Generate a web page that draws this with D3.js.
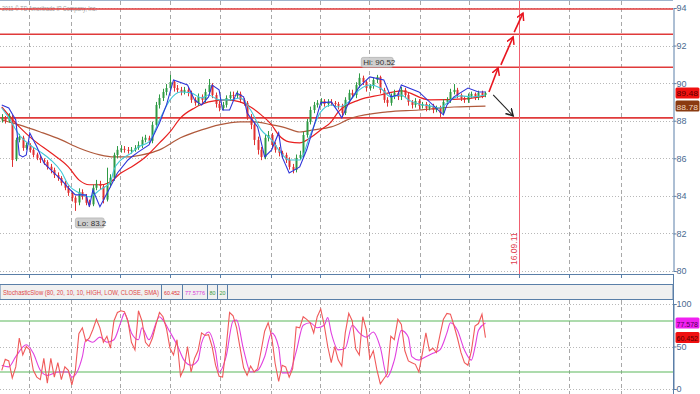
<!DOCTYPE html>
<html>
<head>
<meta charset="utf-8">
<script src="https://d3js.org/d3.v7.min.js"></script>
<style>
body{margin:0;padding:0;background:#fff;}
svg text{font-family:"Liberation Sans Narrow","Liberation Sans",Arial,sans-serif;}
</style>
</head>
<body>
<div id="chart"></div>
<script>
// candles, one per bar (price)
var opens = [88.05,88.15,87.99,88.20,85.95,86.98,87.10,86.55,86.70,86.45,86.20,86.02,85.90,85.80,85.55,85.38,85.10,84.95,84.70,84.43,
84.15,83.90,83.65,84.20,83.95,83.65,83.55,84.43,84.64,84.50,83.80,84.59,84.96,86.18,86.45,86.50,86.45,86.39,86.45,86.55,
86.71,86.98,87.09,86.93,87.78,88.84,89.21,89.53,89.74,90.06,89.74,89.64,89.53,89.64,89.48,89.11,88.95,89.27,89.11,89.53,
89.90,89.37,88.89,88.68,88.84,89.21,89.37,89.32,89.43,89.11,88.95,88.20,87.78,86.98,86.45,86.07,87.09,87.24,86.71,86.45,
86.29,86.18,85.91,85.54,85.38,86.02,86.18,87.24,87.94,88.57,88.84,88.95,89.05,88.89,89.00,88.95,88.89,88.79,88.41,89.11,
89.48,89.37,89.90,90.28,90.06,89.74,89.85,90.17,90.33,89.64,89.11,88.95,89.32,89.48,89.27,89.64,89.37,89.00,88.84,89.05,
88.79,88.89,88.68,88.79,88.57,88.68,88.41,89.00,89.11,89.53,89.64,89.37,89.21,89.11,89.32,89.43,89.27,89.48,89.37];
var highs = [88.35,88.25,88.40,88.30,87.10,87.30,87.20,86.85,86.80,86.55,86.30,86.15,86.00,85.90,85.70,85.50,85.25,85.05,84.80,84.55,
84.25,84.00,84.40,84.35,84.10,83.80,84.60,84.85,84.80,84.60,85.50,85.15,86.30,86.65,86.70,86.65,86.60,86.60,86.70,86.90,
87.15,87.25,87.20,87.95,89.00,89.40,89.70,89.95,90.44,90.15,89.90,89.80,89.80,89.80,89.60,89.25,89.45,89.40,89.70,90.22,
90.00,89.50,89.05,89.00,89.35,89.55,89.55,89.60,89.55,89.20,89.05,88.35,87.90,87.15,86.60,87.25,87.45,87.35,86.85,86.60,
86.40,86.30,86.05,85.70,86.20,86.40,87.40,88.10,88.75,89.00,89.10,89.20,89.15,89.15,89.15,89.05,89.00,88.90,89.25,89.65,
89.65,90.05,90.52,90.40,90.15,89.95,90.30,90.44,90.40,89.75,89.25,89.45,89.65,89.60,89.80,89.75,89.50,89.10,89.20,89.15,
89.00,89.00,88.90,88.90,88.80,88.80,89.15,89.25,89.70,89.95,89.75,89.45,89.30,89.45,89.55,89.50,89.60,89.60,89.55];
var lows = [87.90,87.85,87.90,85.54,85.85,86.85,86.40,86.45,86.30,86.05,85.90,85.75,85.65,85.40,85.20,84.95,84.80,84.55,84.30,84.00,
83.70,83.20,83.50,83.80,83.50,83.40,83.45,84.30,84.35,83.60,83.70,84.45,84.80,86.00,86.30,86.30,86.25,86.25,86.35,86.45,
86.55,86.85,86.75,86.80,87.65,88.65,89.05,89.35,89.60,89.55,89.50,89.35,89.40,89.30,88.95,88.80,88.80,88.95,88.95,89.40,
89.20,88.70,88.50,88.55,88.70,89.05,89.15,89.20,88.95,88.80,88.05,87.55,86.70,86.20,85.90,85.95,86.90,86.55,86.30,86.10,
86.00,85.75,85.40,85.20,85.25,85.90,86.05,87.10,87.80,88.40,88.70,88.80,88.75,88.75,88.80,88.75,88.60,88.20,88.30,88.95,
89.20,89.20,89.75,89.90,89.55,89.60,89.70,90.00,89.45,88.95,88.75,88.80,89.15,89.10,89.10,89.20,88.80,88.65,88.70,88.60,
88.65,88.50,88.55,88.40,88.45,88.20,88.30,88.85,88.95,89.40,89.20,89.05,88.95,88.95,89.20,89.10,89.10,89.20,89.25];
var closes = [88.15,87.99,88.26,85.91,86.98,87.14,86.55,86.71,86.45,86.18,86.02,85.91,85.81,85.54,85.38,85.12,84.96,84.69,84.43,84.16,
83.90,83.63,84.21,83.95,83.63,83.52,84.43,84.64,84.53,83.79,84.59,84.96,86.18,86.45,86.50,86.45,86.39,86.45,86.55,86.71,
86.98,87.09,86.93,87.78,88.84,89.21,89.53,89.74,90.06,89.74,89.64,89.53,89.64,89.48,89.11,88.95,89.27,89.11,89.53,89.90,
89.37,88.89,88.68,88.84,89.21,89.37,89.32,89.43,89.11,88.95,88.20,87.78,86.98,86.45,86.07,87.09,87.24,86.71,86.45,86.29,
86.18,85.91,85.54,85.38,86.02,86.18,87.24,87.94,88.57,88.84,88.95,89.05,88.89,89.00,88.95,88.89,88.79,88.41,89.11,89.48,
89.37,89.90,90.28,90.06,89.74,89.85,90.17,90.33,89.64,89.11,88.95,89.32,89.48,89.27,89.64,89.37,89.00,88.84,89.05,88.79,
88.89,88.68,88.79,88.57,88.68,88.41,89.00,89.11,89.53,89.64,89.37,89.21,89.11,89.32,89.43,89.27,89.48,89.37,89.48];

// moving averages: [bar, price]
var maBlue = [[0,88.84],[2,88.68],[4,88.04],[5,86.18],[6,86.07],[7,86.18],[8,87.35],[10,86.61],[12,85.75],[14,85.38],[17,84.85],[19,84.43],
[21,84.05],[24,84.05],[25,83.42],[26,84.32],[28,83.42],[31,84.48],[33,85.22],[36,85.91],[37,86.07],[39,86.34],[42,86.71],[45,87.88],
[47,88.84],[49,90.17],[53,89.90],[55,89.11],[57,88.84],[59,89.27],[60,89.90],[62,89.64],[63,88.57],[65,88.57],[67,89.48],[69,89.27],
[70,88.41],[73,87.67],[75,86.07],[77,86.45],[79,87.35],[80,86.07],[82,85.22],[85,85.54],[87,86.45],[89,87.67],[91,88.95],[94,89.00],
[96,88.47],[97,88.15],[99,88.95],[102,89.80],[105,90.33],[109,90.17],[111,89.27],[113,89.37],[114,89.90],[119,89.53],[126,88.31],
[127,88.84],[129,89.27],[133,89.74],[136,89.53],[138,89.53]];
var maCyan = [[0,88.68],[2,88.15],[5,87.24],[8,86.71],[11,86.34],[14,85.91],[17,85.28],[19,84.59],[22,84.16],[25,83.95],[28,84.32],
[31,84.74],[32,85.38],[34,85.91],[37,86.29],[39,86.61],[42,86.87],[45,88.04],[48,89.11],[51,89.53],[54,89.48],[57,89.21],[59,89.37],
[62,89.11],[65,89.11],[68,89.21],[71,88.57],[74,87.51],[77,86.98],[79,86.45],[82,85.91],[85,85.91],[88,87.24],[91,88.47],[94,88.84],
[96,88.73],[99,89.00],[102,89.64],[105,89.90],[108,89.74],[111,89.27],[114,89.37],[116,89.11],[119,88.89],[122,88.79],[125,88.68],
[128,89.11],[131,89.32],[134,89.27],[138,89.37]];
var maRed = [[0,88.73],[5,87.67],[9,86.98],[14,86.29],[19,85.54],[22,84.85],[25,84.59],[28,84.59],[31,84.74],[34,85.22],[37,85.54],
[41,86.07],[45,86.82],[48,87.40],[51,88.15],[55,88.68],[59,89.00],[64,89.11],[68,89.00],[71,88.73],[74,88.31],[77,87.78],[79,87.24],
[82,86.87],[85,86.82],[88,87.09],[91,87.51],[94,87.94],[96,88.47],[102,89.11],[108,89.37],[114,89.59],[122,89.11],[132,89.16],[138,89.32]];
var maBrown = [[0,88.04],[5,87.78],[11,87.40],[17,86.98],[22,86.55],[28,86.18],[32,86.07],[36,86.07],[40,86.18],[45,86.45],[51,87.09],
[57,87.51],[62,87.78],[68,87.94],[72,87.94],[77,87.78],[81,87.62],[85,87.40],[89,87.51],[94,87.67],[100,88.15],[110,88.47],[119,88.57],
[129,88.73],[138,88.78]];

// StochasticSlow %K per bar and %D read as [bar, value]
var stochK = [22,35,33,13,26,60,40,50,46,22,14,11,36,7,36,14,31,11,26,22,5,22,65,72,56,60,70,82,72,55,62,48,80,90,92,91,80,55,46,92,
80,55,50,60,76,90,85,71,48,40,58,15,24,50,20,36,45,66,63,64,50,28,15,14,48,90,86,72,48,25,16,27,20,24,45,68,78,62,30,9,
28,26,14,24,73,72,85,82,78,66,85,94,75,50,31,50,34,27,66,89,80,47,40,85,70,36,45,23,6,12,18,62,58,82,76,45,33,31,29,20,
42,66,45,48,43,63,82,89,88,75,60,43,31,28,45,74,77,88,60.452];
var stochD = [[0,28],[2,26],[4,38],[7,52],[9,42],[11,22],[13,16],[16,20],[19,20],[20,14],[23,38],[24,58],[26,55],[28,61],[30,55],[32,58],
[34,79],[35,89],[37,66],[39,58],[40,72],[42,58],[45,85],[46,81],[48,67],[50,52],[52,34],[54,28],[56,34],[57,54],[59,67],[61,44],
[62,20],[64,38],[66,80],[67,81],[69,46],[71,20],[73,22],[75,38],[77,66],[79,49],[80,19],[82,19],[84,44],[86,75],[88,78],[90,72],
[92,75],[93,84],[94,66],[96,46],[98,48],[100,75],[102,66],[104,61],[106,67],[108,49],[110,14],[112,34],[114,69],[116,61],[117,38],
[119,34],[121,38],[123,42],[125,46],[127,66],[128,78],[130,69],[132,46],[134,34],[135,49],[136,69],[138,77.578]];

var priceTicks = [80,82,84,86,88,90,92,94];
var levels = [93.95,92.6,90.85,88.15];
var gridBars = [7.8,19.8,33.7,48,62.3,76.8,90.8,104.8,119.3,133.3,147.6,161.8,176.7];
var markBar = 147.6, markLabel = "16.09.11";
var upArrows = [[[139,89.53],[141.6,90.81]],[[142.4,90.97],[145.9,92.46]],[[146.2,92.72],[148.7,93.73]]];
var downArrow = [[140.2,89.37],[145.9,88.26]];
var lastBrown = 88.78;

var W = 700, H = 394, R = 673;
var svg = d3.select("#chart").append("svg").attr("width", W).attr("height", H);

var x = d3.scaleLinear().domain([-0.5, 191.5]).range([0, R]);
var y = d3.scaleLinear().domain([80, 94]).range([271, 8]);
var ys = d3.scaleLinear().domain([0, 100]).range([389, 304]);

var defs = svg.append("defs");
defs.append("clipPath").attr("id", "clipMain").append("rect").attr("x", 0).attr("y", 1).attr("width", R).attr("height", 273);
defs.append("clipPath").attr("id", "clipSto").append("rect").attr("x", 0).attr("y", 300).attr("width", R).attr("height", 94);
function arrowHead(id, col) {
  defs.append("marker").attr("id", id).attr("markerUnits", "userSpaceOnUse")
    .attr("markerWidth", 10).attr("markerHeight", 10).attr("refX", 7).attr("refY", 4)
    .attr("orient", "auto")
    .append("path").attr("d", "M0,0 L7,4 L0,8").attr("fill", "none").attr("stroke", col).attr("stroke-width", 1.5);
}
arrowHead("headRed", "#e8141e");
arrowHead("headBlack", "#222");

// grid
var grid = svg.append("g");
grid.selectAll("line.hp").data(priceTicks).enter().append("line")
  .attr("x1", 0).attr("x2", R).attr("y1", d => Math.round(y(d)) + 0.5).attr("y2", d => Math.round(y(d)) + 0.5)
  .attr("stroke", "#b8b8b8").attr("stroke-dasharray", "1,2");
grid.selectAll("line.hs").data([0, 50, 100]).enter().append("line")
  .attr("x1", 0).attr("x2", R).attr("y1", d => Math.round(ys(d)) + 0.5).attr("y2", d => Math.round(ys(d)) + 0.5)
  .attr("stroke", "#b8b8b8").attr("stroke-dasharray", "1,2");
gridBars.forEach(function(b) {
  var gx = Math.round(x(b)) + 0.5;
  if (b !== markBar) {
    grid.append("line").attr("x1", gx).attr("x2", gx).attr("y1", 1).attr("y2", 274)
      .attr("stroke", "#a8a8a8").attr("stroke-dasharray", "4,3");
  }
  grid.append("line").attr("x1", gx).attr("x2", gx).attr("y1", 300).attr("y2", 394)
    .attr("stroke", "#a8a8a8").attr("stroke-dasharray", "4,3");
  grid.append("line").attr("x1", gx).attr("x2", gx).attr("y1", 274).attr("y2", 278).attr("stroke", "#5a7fa8");
});

svg.append("text").attr("x", 2).attr("y", 11).attr("font-size", 7).attr("fill", "#a0a0a0")
  .attr("textLength", 95).attr("lengthAdjust", "spacingAndGlyphs").text("2011 \u00a9 TD Ameritrade IP Company, Inc.");

// support / resistance lines
svg.selectAll("line.lvl").data(levels).enter().append("line")
  .attr("x1", 0).attr("x2", R).attr("y1", d => y(d)).attr("y2", d => y(d))
  .attr("stroke", "#e03a3a").attr("stroke-width", 1.6);

// date marker
svg.append("line").attr("x1", Math.round(x(markBar)) + 0.5).attr("x2", Math.round(x(markBar)) + 0.5)
  .attr("y1", 1).attr("y2", 274).attr("stroke", "#f06070").attr("stroke-width", 1);
svg.append("text").attr("transform", "translate(" + (x(markBar) - 2) + ",265) rotate(-90)")
  .attr("font-size", 8.5).attr("fill", "#e04050").text(markLabel);

// price panel
var main = svg.append("g").attr("clip-path", "url(#clipMain)");
var line = d3.line().x(d => x(d[0])).y(d => y(d[1]));
var smooth = d3.line().x(d => x(d[0])).y(d => y(d[1])).curve(d3.curveMonotoneX);
main.append("path").attr("d", smooth(maBrown)).attr("fill", "none").attr("stroke", "#b05a3c").attr("stroke-width", 1.2);
main.append("path").attr("d", smooth(maRed)).attr("fill", "none").attr("stroke", "#e82020").attr("stroke-width", 1.2);

var bars = closes.map(function(c, i) { return {i: i, o: opens[i], h: highs[i], l: lows[i], c: c}; });
var cg = main.append("g");
cg.selectAll("line.wick").data(bars).enter().append("line")
  .attr("x1", d => Math.round(x(d.i)) + 0.5).attr("x2", d => Math.round(x(d.i)) + 0.5)
  .attr("y1", d => y(d.h)).attr("y2", d => y(d.l))
  .attr("stroke", d => d.c >= d.o ? "#2e9a44" : "#e03030").attr("stroke-width", 1);
cg.selectAll("rect.body").data(bars).enter().append("rect")
  .attr("x", d => Math.round(x(d.i)) - 0.5).attr("width", 2)
  .attr("y", d => y(Math.max(d.o, d.c)))
  .attr("height", d => Math.max(1, Math.abs(y(d.o) - y(d.c))))
  .attr("fill", d => d.c >= d.o ? "#2e9a44" : "#e03030");

main.append("path").attr("d", smooth(maCyan)).attr("fill", "none").attr("stroke", "#40c8d8").attr("stroke-width", 1.1);
main.append("path").attr("d", line(maBlue)).attr("fill", "none").attr("stroke", "#2f35d8").attr("stroke-width", 1.1);

// hi / lo bubbles
var hiI = d3.maxIndex(highs), loI = d3.minIndex(lows);
function bubble(tx, ty, label) {
  var g = svg.append("g");
  g.append("rect").attr("x", tx).attr("y", ty).attr("width", label.length * 3.1 + 4).attr("height", 10)
    .attr("rx", 2).attr("fill", "#cfcfcf").attr("stroke", "#a8a8a8").attr("stroke-width", 0.6);
  g.append("text").attr("x", tx + 2).attr("y", ty + 8).attr("font-size", 8).attr("fill", "#333").text(label);
}
bubble(x(hiI) + 2, y(highs[hiI]) - 16, "Hi: " + highs[hiI]);
bubble(x(loI), y(lows[loI]) + 7, "Lo: " + lows[loI]);

// projection arrows
upArrows.forEach(function(a) {
  svg.append("line").attr("x1", x(a[0][0])).attr("y1", y(a[0][1])).attr("x2", x(a[1][0])).attr("y2", y(a[1][1]))
    .attr("stroke", "#e8141e").attr("stroke-width", 1.6).attr("marker-end", "url(#headRed)");
});
svg.append("line").attr("x1", x(downArrow[0][0])).attr("y1", y(downArrow[0][1]))
  .attr("x2", x(downArrow[1][0])).attr("y2", y(downArrow[1][1]))
  .attr("stroke", "#222").attr("stroke-width", 1.1).attr("marker-end", "url(#headBlack)");

// frames
svg.append("line").attr("x1", 0).attr("x2", R).attr("y1", 0.5).attr("y2", 0.5).attr("stroke", "#9fb4cc");
svg.append("line").attr("x1", 0).attr("x2", R).attr("y1", 274.5).attr("y2", 274.5).attr("stroke", "#5a7fa8");

// right price axis
var ax = svg.append("g").attr("transform", "translate(" + (R + 0.5) + ",0)")
  .call(d3.axisRight(y).tickValues(priceTicks).tickSize(3).tickFormat(d3.format("d")));
ax.select(".domain").attr("stroke", "#5a7fa8");
ax.selectAll(".tick line").attr("stroke", "#5a7fa8");
ax.selectAll("text").attr("fill", "#4a6a90").attr("font-size", 9).attr("x", 3);
svg.append("line").attr("x1", R + 0.5).attr("x2", R + 0.5).attr("y1", 274).attr("y2", 394).attr("stroke", "#5a7fa8");

function tag(cy, txt, bg, fg) {
  svg.append("rect").attr("x", R + 2.5).attr("y", cy - 5.5).attr("width", 24).attr("height", 11).attr("rx", 1.5).attr("fill", bg);
  svg.append("text").attr("x", R + 3.5).attr("y", cy + 3.5).attr("font-size", 8).attr("fill", fg)
    .attr("textLength", 21.5).attr("lengthAdjust", "spacingAndGlyphs").text(txt);
}
var lastC = closes[closes.length - 1];
var cRed = y(lastC), cBrown = y(lastBrown);
if (cBrown - cRed < 12) { var m = (cRed + cBrown) / 2; cRed = m - 6.5; cBrown = m + 6.5; }
tag(cRed, lastC.toFixed(2), "#f01010", "#5a0000");
tag(cBrown, lastBrown.toFixed(2), "#8a3a10", "#f0d8c0");

// stochastic header
var hd = svg.append("g");
hd.append("rect").attr("x", 0).attr("y", 284.5).attr("width", R).attr("height", 15).attr("fill", "#f0f0f0")
  .attr("stroke", "#5a7fa8").attr("stroke-width", 1);
var parts = [
  {t: "StochasticSlow (80, 20, 10, 10, HIGH, LOW, CLOSE, SMA)", c: "#e04848", x: 3, w: 156, s: 161.5, f: 7},
  {t: "60.452", c: "#e03030", x: 164, w: 16, s: 182.5, f: 6},
  {t: "77.5776", c: "#d838d8", x: 185, w: 20, s: 207.5, f: 6},
  {t: "80", c: "#3a9a40", x: 209.5, w: 6, s: 217.5, f: 6},
  {t: "20", c: "#3a9a40", x: 219.5, w: 6, s: 227.5, f: 6}
];
parts.forEach(function(p) {
  hd.append("text").attr("x", p.x).attr("y", 295).attr("font-size", p.f).attr("fill", p.c)
    .attr("textLength", p.w).attr("lengthAdjust", "spacingAndGlyphs").text(p.t);
  hd.append("line").attr("x1", p.s).attr("x2", p.s).attr("y1", 284.5).attr("y2", 299.5).attr("stroke", "#5a7fa8");
});

// stochastic panel
var sg = svg.append("g").attr("clip-path", "url(#clipSto)");
sg.selectAll("line.ob").data([80, 20]).enter().append("line")
  .attr("x1", 0).attr("x2", R).attr("y1", d => ys(d)).attr("y2", d => ys(d))
  .attr("stroke", "#5cb85c").attr("stroke-width", 1.2);
var kLine = d3.line().x((d, i) => x(i)).y(d => ys(d));
var dLine = d3.line().x(d => x(d[0])).y(d => ys(d[1])).curve(d3.curveMonotoneX);
sg.append("path").attr("d", dLine(stochD)).attr("fill", "none").attr("stroke", "#e040e0").attr("stroke-width", 1.1);
sg.append("path").attr("d", kLine(stochK)).attr("fill", "none").attr("stroke", "#f05a5a").attr("stroke-width", 1.1);

var as = svg.append("g").attr("transform", "translate(" + (R + 0.5) + ",0)")
  .call(d3.axisRight(ys).tickValues([0, 50, 100]).tickSize(3));
as.select(".domain").attr("stroke", "#5a7fa8");
as.selectAll(".tick line").attr("stroke", "#5a7fa8");
as.selectAll("text").attr("fill", "#4a6a90").attr("font-size", 9).attr("x", 3);

var dLast = stochD[stochD.length - 1][1], kLast = stochK[stochK.length - 1];
tag(ys(dLast), dLast.toFixed(3), "#f020f0", "#500050");
tag(ys(kLast), kLast.toFixed(3), "#f01010", "#5a0000");
</script>
</body>
</html>
